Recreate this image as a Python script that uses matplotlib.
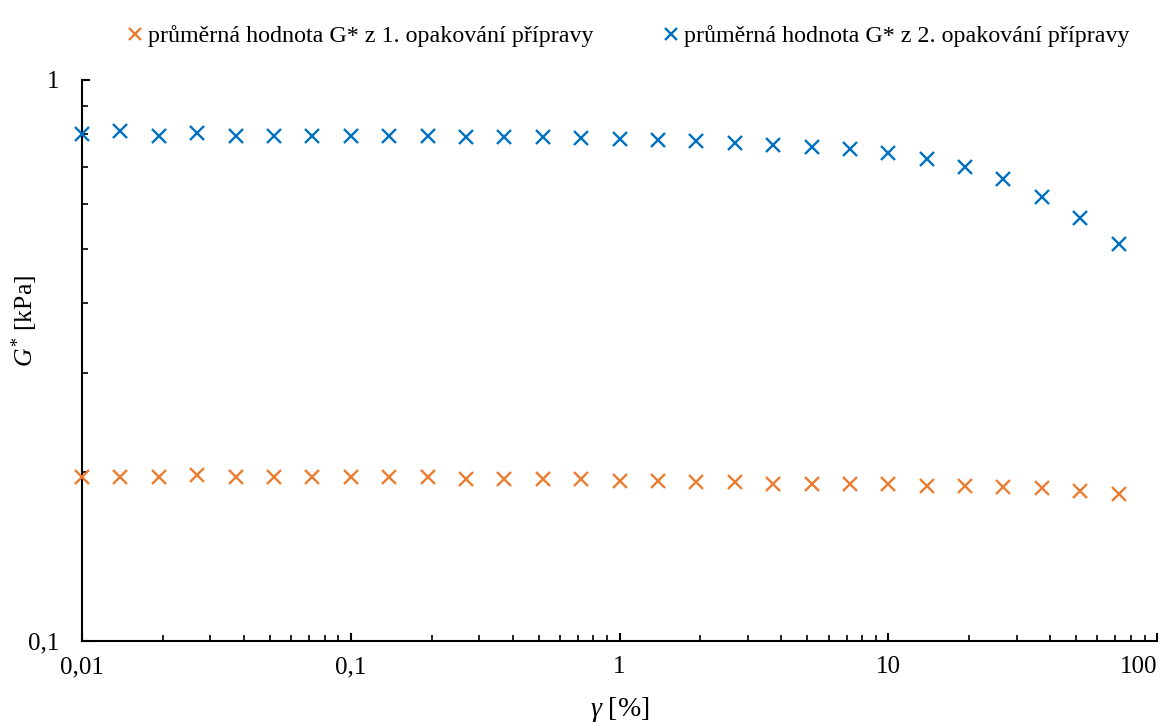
import matplotlib
matplotlib.use("Agg")
import matplotlib.pyplot as plt
from matplotlib.ticker import FuncFormatter, LogLocator, NullFormatter

# ---------------------------------------------------------------------------
# Data
# ---------------------------------------------------------------------------
strain = [0.01, 0.0139, 0.0193, 0.0268, 0.0373, 0.0518, 0.072,
          0.1, 0.139, 0.193, 0.268, 0.373, 0.518, 0.72,
          1.0, 1.39, 1.93, 2.68, 3.73, 5.18, 7.2,
          10.0, 13.9, 19.3, 26.8, 37.3, 51.8, 72.0]

g_rep1 = [0.196, 0.196, 0.196, 0.1975, 0.196, 0.196, 0.196,
          0.196, 0.196, 0.196, 0.194, 0.194, 0.194, 0.194,
          0.193, 0.193, 0.192, 0.192, 0.190, 0.190, 0.190,
          0.190, 0.189, 0.189, 0.188, 0.187, 0.185, 0.183]

g_rep2 = [0.800, 0.811, 0.795, 0.803, 0.795, 0.795, 0.795,
          0.795, 0.794, 0.794, 0.792, 0.792, 0.790, 0.787,
          0.785, 0.781, 0.778, 0.771, 0.766, 0.760, 0.753,
          0.740, 0.723, 0.700, 0.666, 0.618, 0.567, 0.510]

label_rep1 = "průměrná hodnota G* z 1. opakování přípravy"
label_rep2 = "průměrná hodnota G* z 2. opakování přípravy"

ORANGE = "#ED7D31"
BLUE = "#0070C0"

plt.rcParams["font.family"] = ["Liberation Serif", "DejaVu Serif"]
plt.rcParams["mathtext.fontset"] = "custom"
plt.rcParams["mathtext.rm"] = "Liberation Serif"
plt.rcParams["mathtext.it"] = "Liberation Serif:italic"


def comma_fmt(v, pos):
    s = f"{v:g}"
    return s.replace(".", ",")


fig = plt.figure(figsize=(11.73, 7.22), dpi=100)
ax = fig.add_axes([0.0699, 0.1126, 0.9165, 0.7766])

ax.plot(strain, g_rep1, linestyle="none", marker="x", ms=10, mew=1.7,
        color=ORANGE, label=label_rep1, clip_on=False, zorder=3)
ax.plot(strain, g_rep2, linestyle="none", marker="x", ms=10, mew=1.7,
        color=BLUE, label=label_rep2, clip_on=False, zorder=3)

ax.set_xscale("log")
ax.set_yscale("log")
ax.set_xlim(0.01, 100)
ax.set_ylim(0.1, 1)

for side in ("top", "right"):
    ax.spines[side].set_visible(False)
for side in ("left", "bottom"):
    ax.spines[side].set_linewidth(1.5)

ax.xaxis.set_major_locator(LogLocator(base=10))
ax.yaxis.set_major_locator(LogLocator(base=10))
ax.xaxis.set_minor_locator(LogLocator(base=10, subs=range(2, 10)))
ax.yaxis.set_minor_locator(LogLocator(base=10, subs=range(2, 10)))
ax.xaxis.set_major_formatter(FuncFormatter(comma_fmt))
ax.yaxis.set_major_formatter(FuncFormatter(comma_fmt))
ax.xaxis.set_minor_formatter(NullFormatter())
ax.yaxis.set_minor_formatter(NullFormatter())

ax.tick_params(which="major", direction="in", length=6, width=1.5,
               labelsize=18)
ax.tick_params(which="minor", direction="in", length=4, width=1.2)
ax.tick_params(axis="x", which="major", pad=11)
ax.tick_params(axis="y", which="major", pad=16)

ax.set_xlabel(r"$\gamma$ [%]", fontsize=20, labelpad=12)
ax.set_ylabel(r"$G^{*}$ [kPa]", fontsize=18.5, va="center")
ax.yaxis.set_label_coords(-0.053, 0.57)

fig.legend(loc="upper center", bbox_to_anchor=(0.536, 0.995), ncol=2,
           frameon=False, fontsize=17.3, handlelength=0.6,
           handletextpad=0.25, columnspacing=2.9, markerscale=0.9)

# last x label sits flush with the axis end, as in the original
fig.canvas.draw()
for lbl in ax.get_xticklabels():
    if lbl.get_text() == "100":
        lbl.set_horizontalalignment("right")

plt.savefig("out.png", dpi=100)
plt.close(fig)
